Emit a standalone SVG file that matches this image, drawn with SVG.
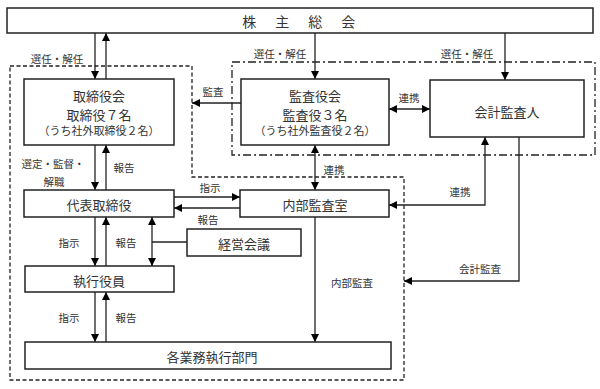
<svg xmlns="http://www.w3.org/2000/svg" width="600" height="389" viewBox="0 0 600 389">
<defs>
<marker id="ah" viewBox="0 0 10 10" refX="10" refY="5" markerWidth="8" markerHeight="8" markerUnits="userSpaceOnUse" orient="auto-start-reverse">
<path d="M0,0 L10,5 L0,10 z" fill="#000"/>
</marker>
<style>
.box{fill:#fff;stroke:#222;stroke-width:1.5}
.t{font-family:"Noto Sans CJK JP","Noto Sans CJK SC",sans-serif;font-size:13px;fill:#333;text-anchor:middle;dominant-baseline:central}
.s{font-size:11px}
.l{font-family:"Noto Sans CJK JP","Noto Sans CJK SC",sans-serif;font-size:10.5px;fill:#333;text-anchor:middle;dominant-baseline:central}
.c{fill:none;stroke:#222;stroke-width:1.3}
.a{marker-end:url(#ah)}
.b{marker-start:url(#ah);marker-end:url(#ah)}
</style>
</defs>
<g id="groups">
<path d="M10,66 H192 V177 H404 V380 H10 Z" fill="none" stroke="#222" stroke-width="1.3" stroke-dasharray="4,2.5"/>
<rect x="232" y="62" width="363" height="93" fill="none" stroke="#222" stroke-width="1.3" stroke-dasharray="8,3,2,3"/>
</g>
<g id="connectors">
<line class="c a" x1="95" y1="33" x2="95" y2="79"/>
<line class="c a" x1="106" y1="79" x2="106" y2="33"/>
<line class="c a" x1="315" y1="33" x2="315" y2="79"/>
<line class="c a" x1="505" y1="33" x2="505" y2="80"/>
<line class="c a" x1="241" y1="103" x2="192" y2="103"/>
<line class="c b" x1="389" y1="109" x2="430" y2="109"/>
<line class="c a" x1="95" y1="145" x2="95" y2="190"/>
<line class="c a" x1="106" y1="190" x2="106" y2="145"/>
<line class="c b" x1="315" y1="145" x2="315" y2="190"/>
<line class="c a" x1="174" y1="197" x2="240" y2="197"/>
<line class="c a" x1="240" y1="208" x2="174" y2="208"/>
<line class="c a" x1="95" y1="217" x2="95" y2="266"/>
<line class="c a" x1="106" y1="266" x2="106" y2="217"/>
<line class="c b" x1="152" y1="217" x2="152" y2="266"/>
<line class="c" x1="152" y1="242" x2="187" y2="242"/>
<line class="c a" x1="95" y1="292" x2="95" y2="342"/>
<line class="c a" x1="106" y1="342" x2="106" y2="292"/>
<line class="c a" x1="315" y1="217" x2="315" y2="342"/>
<path class="c b" d="M389,205 H485 V137"/>
<path class="c a" d="M519,137 V281 H404"/>
</g>
<g id="labels">
<text class="l" x="57" y="58">選任・解任</text>
<text class="l" x="280" y="53">選任・解任</text>
<text class="l" x="467" y="53">選任・解任</text>
<text class="l" x="213" y="91">監査</text>
<text class="l" x="409" y="97">連携</text>
<text class="l" x="53" y="163">選定・監督・</text>
<text class="l" x="54" y="181">解職</text>
<text class="l" x="124" y="167">報告</text>
<text class="l" x="334" y="169">連携</text>
<text class="l" x="210" y="187">指示</text>
<text class="l" x="208" y="219">報告</text>
<text class="l" x="460" y="191">連携</text>
<text class="l" x="69" y="242">指示</text>
<text class="l" x="126" y="242">報告</text>
<text class="l" x="352" y="282">内部監査</text>
<text class="l" x="480" y="268">会計監査</text>
<text class="l" x="69" y="317">指示</text>
<text class="l" x="126" y="317">報告</text>
</g>
<g id="shareholders">
<rect class="box" x="7" y="8" width="586" height="25"/>
<text class="t" x="300" y="20.5" style="letter-spacing:2.5px;font-size:14px">株　主　総　会</text>
</g>
<g id="board">
<rect class="box" x="24" y="79" width="150" height="66"/>
<text class="t" x="99" y="95">取締役会</text>
<text class="t" x="99" y="114">取締役７名</text>
<text class="t s" x="99" y="130">（うち社外取締役２名）</text>
</g>
<g id="auditboard">
<rect class="box" x="241" y="79" width="148" height="66"/>
<text class="t" x="315" y="95">監査役会</text>
<text class="t" x="315" y="114">監査役３名</text>
<text class="t s" x="315" y="130">（うち社外監査役２名）</text>
</g>
<g id="accountant">
<rect class="box" x="430" y="80" width="154" height="57"/>
<text class="t" x="507" y="111">会計監査人</text>
</g>
<g id="ceo">
<rect class="box" x="24" y="190" width="150" height="27"/>
<text class="t" x="99" y="204">代表取締役</text>
</g>
<g id="internalaudit">
<rect class="box" x="240" y="190" width="149" height="27"/>
<text class="t" x="315" y="204">内部監査室</text>
</g>
<g id="mgmtmeeting">
<rect class="box" x="187" y="229" width="114" height="27"/>
<text class="t" x="244" y="243">経営会議</text>
</g>
<g id="officers">
<rect class="box" x="25" y="266" width="149" height="26"/>
<text class="t" x="99" y="280">執行役員</text>
</g>
<g id="divisions">
<rect class="box" x="25" y="342" width="366" height="27"/>
<text class="t" x="212" y="356">各業務執行部門</text>
</g>
</svg>
